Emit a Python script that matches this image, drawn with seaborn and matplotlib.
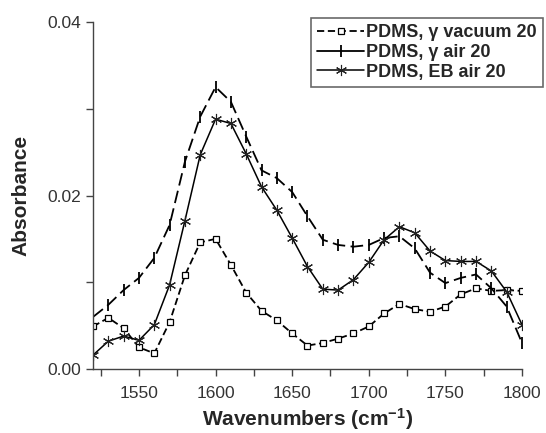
import numpy as np
import pandas as pd
import seaborn as sns
import matplotlib.pyplot as plt
from matplotlib.ticker import MultipleLocator

# wavenumbers (cm-1), one point every 10
wavenumber = [1520, 1530, 1540, 1550, 1560, 1570, 1580, 1590, 1600, 1610,
              1620, 1630, 1640, 1650, 1660, 1670, 1680, 1690, 1700, 1710,
              1720, 1730, 1740, 1750, 1760, 1770, 1780, 1790, 1800]

gamma_vacuum = [0.0049, 0.0059, 0.0047, 0.0025, 0.0018, 0.0054, 0.0108, 0.0146, 0.0150, 0.0120,
                0.0088, 0.0067, 0.0056, 0.0041, 0.0027, 0.0030, 0.0035, 0.0041, 0.0049, 0.0064,
                0.0075, 0.0069, 0.0066, 0.0072, 0.0086, 0.0093, 0.0090, 0.0091, 0.0090]

gamma_air = [0.0060, 0.0074, 0.0091, 0.0105, 0.0128, 0.0166, 0.0239, 0.0291, 0.0325, 0.0308,
             0.0268, 0.0229, 0.0220, 0.0204, 0.0176, 0.0149, 0.0143, 0.0141, 0.0143, 0.0151,
             0.0153, 0.0139, 0.0111, 0.0099, 0.0105, 0.0109, 0.0093, 0.0072, 0.0030]

eb_air = [0.0016, 0.0032, 0.0038, 0.0033, 0.0051, 0.0097, 0.0171, 0.0247, 0.0288, 0.0283,
          0.0248, 0.0210, 0.0183, 0.0151, 0.0118, 0.0092, 0.0091, 0.0103, 0.0123, 0.0149,
          0.0164, 0.0157, 0.0136, 0.0125, 0.0124, 0.0124, 0.0113, 0.0089, 0.0051]

labels = ["PDMS, γ vacuum 20", "PDMS, γ air 20", "PDMS, EB air 20"]

sns.set_theme(style="ticks")
plt.rcParams['font.family'] = ['Liberation Sans', 'DejaVu Sans']
plt.rcParams['mathtext.fontset'] = 'custom'
plt.rcParams['mathtext.rm'] = 'Liberation Sans:bold'
plt.rcParams['mathtext.bf'] = 'Liberation Sans:bold'
plt.rcParams['mathtext.default'] = 'bf'

df = pd.DataFrame({"wn": wavenumber, "vac": gamma_vacuum, "air": gamma_air, "eb": eb_air})

fig = plt.figure(figsize=(5.46, 4.33), dpi=100)
ax = fig.add_axes([93/546, 1-369/433, (522-93)/546, (369-22)/433])

sns.lineplot(data=df, x="wn", y="vac", ax=ax, color="black", lw=1.3,
             marker="s", markersize=5, markerfacecolor="white", markeredgecolor="black",
             markeredgewidth=0.9, dashes=(4, 2), label=labels[0])
sns.lineplot(data=df, x="wn", y="air", ax=ax, color="black", lw=1.3,
             marker="|", markersize=8, markeredgewidth=1.3, markeredgecolor="black",
             dashes=(7, 3), label=labels[1])
sns.lineplot(data=df, x="wn", y="eb", ax=ax, color="black", lw=1.1,
             marker=(6, 2, 0), markersize=8, markeredgewidth=0.8, markeredgecolor="#222222",
             label=labels[2])

ax.set_xlim(1520, 1800)
ax.set_ylim(0, 0.04)
ax.xaxis.set_major_locator(MultipleLocator(50))
ax.xaxis.set_minor_locator(MultipleLocator(25))
ax.yaxis.set_major_locator(MultipleLocator(0.02))
ax.yaxis.set_minor_locator(MultipleLocator(0.01))
ax.yaxis.set_major_formatter(lambda v, p: f"{v:.2f}")
ax.tick_params(which="both", direction="out", length=5, width=1, color="#444444",
               labelsize=12.5, labelcolor="#333333")
ax.tick_params(axis="x", pad=7)
sns.despine(ax=ax)
for s in ["left", "bottom"]:
    ax.spines[s].set_color("#444444")
    ax.spines[s].set_linewidth(1)

ax.set_xlabel("Wavenumbers (cm$^{-1}$)", fontsize=15, fontweight="bold", labelpad=4)
ax.set_ylabel("Absorbance", fontsize=15, fontweight="bold", labelpad=12)

leg = ax.legend(loc="upper right", bbox_to_anchor=(543/546, 1-18/433),
                bbox_transform=fig.transFigure, frameon=True, fancybox=False,
                edgecolor="#444444", prop={"weight": "bold", "size": 13},
                handlelength=2.6, handletextpad=0.1, labelspacing=0.15,
                borderpad=0.35, borderaxespad=0)
leg.get_frame().set_linewidth(1.2)
for h in leg.get_lines():
    h.set_linestyle("-")
leg.get_lines()[0].set_dashes((4, 2))

fig.savefig("out.png", dpi=100)
